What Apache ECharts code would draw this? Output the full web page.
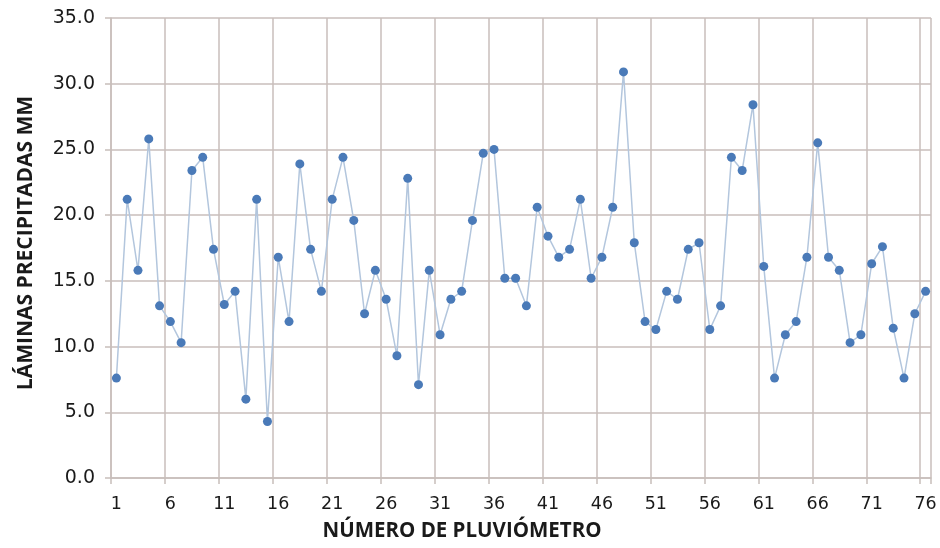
<!DOCTYPE html>
<html>
<head>
<meta charset="utf-8">
<script src="https://cdn.jsdelivr.net/npm/echarts@6/dist/echarts.min.js"></script>
<style>
html,body{margin:0;padding:0;background:#fff;}
#chart{width:940px;height:548px;}
</style>
</head>
<body>
<div id="chart"></div>
<script>
const categories = [];
for (let i = 1; i <= 76; i++) categories.push(String(i));
const values = [
  7.6, 21.2, 15.8, 25.8, 13.1, 11.9, 10.3, 23.4, 24.4, 17.4,
  13.2, 14.2, 6.0, 21.2, 4.3, 16.8, 11.9, 23.9, 17.4, 14.2,
  21.2, 24.4, 19.6, 12.5, 15.8, 13.6, 9.3, 22.8, 7.1, 15.8,
  10.9, 13.6, 14.2, 19.6, 24.7, 25.0, 15.2, 15.2, 13.1, 20.6,
  18.4, 16.8, 17.4, 21.2, 15.2, 16.8, 20.6, 30.9, 17.9, 11.9,
  11.3, 14.2, 13.6, 17.4, 17.9, 11.3, 13.1, 24.4, 23.4, 28.4,
  16.1, 7.6, 10.9, 11.9, 16.8, 25.5, 16.8, 15.8, 10.3, 10.9,
  16.3, 17.6, 11.4, 7.6, 12.5, 14.2
];
const yTitle = 'LÁMINAS PRECIPITADAS MM';
const xTitle = 'NÚMERO DE PLUVIÓMETRO';

const chart = echarts.init(document.getElementById('chart'));
const gridColor = '#c8bebb';
const titleFont = { fontFamily: 'Open Sans', fontWeight: 'bold', fill: '#1a1a1a' };
chart.setOption({
  animation: false,
  grid: { left: 111, right: 9, top: 18, bottom: 70 },
  graphic: [
    { type: 'text', x: 462, y: 531,
      style: Object.assign({ text: xTitle, fontSize: 20.5, align: 'center', verticalAlign: 'middle' }, titleFont) },
    { type: 'text', x: 26, y: 243, rotation: Math.PI / 2,
      style: Object.assign({ text: yTitle, fontSize: 21, align: 'center', verticalAlign: 'middle' }, titleFont) }
  ],
  xAxis: {
    type: 'category',
    data: categories,
    boundaryGap: true,
    axisLine: { show: true, lineStyle: { color: gridColor, width: 1.5 } },
    axisTick: { show: true, interval: 4, length: 6, lineStyle: { color: gridColor, width: 1.5 } },
    axisLabel: { interval: 4, margin: 17, fontFamily: 'DejaVu Sans', fontSize: 17.5, color: '#1a1a1a' },
    splitLine: { show: true, interval: 4, lineStyle: { color: gridColor, width: 1.5 } }
  },
  yAxis: {
    type: 'value',
    min: 0, max: 35, interval: 5,
    axisLine: { show: true, lineStyle: { color: gridColor, width: 1.5 } },
    axisTick: { show: true, length: 6, lineStyle: { color: gridColor, width: 1.5 } },
    axisLabel: { margin: 16, fontFamily: 'DejaVu Sans', fontSize: 19, color: '#1a1a1a',
      formatter: v => v.toFixed(1) },
    splitLine: { show: true, lineStyle: { color: gridColor, width: 1.5 } }
  },
  series: [{
    type: 'line',
    data: values,
    symbol: 'circle',
    symbolSize: 9,
    showAllSymbol: true,
    itemStyle: { color: '#4a7ab8' },
    lineStyle: { color: '#b3c6dd', width: 1.5 }
  }]
});
</script>
</body>
</html>
